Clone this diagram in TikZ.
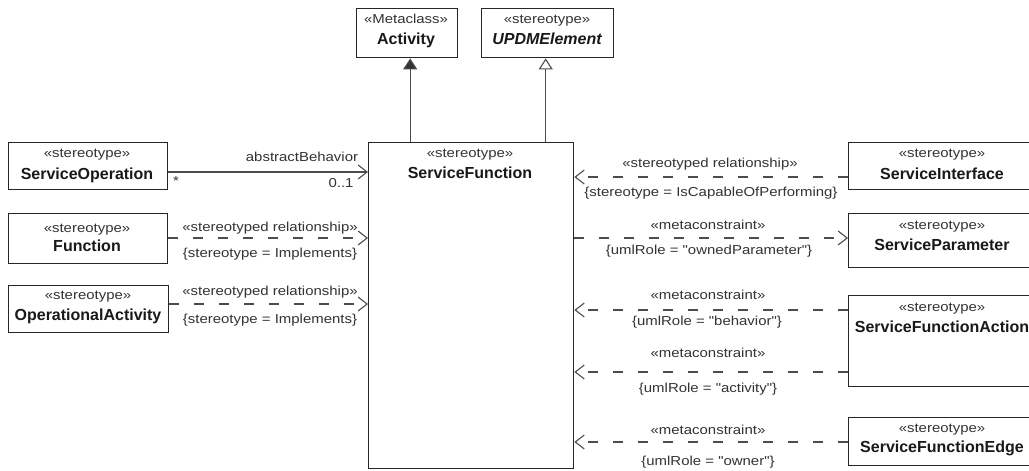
\documentclass[tikz,border=0pt]{standalone}
\usepackage{fontspec}
\setmainfont{Liberation Sans}
\newfontfamily\lblfont{Liberation Sans}[FakeStretch=1.15]
\usetikzlibrary{arrows.meta}
\begin{document}
\begin{tikzpicture}[x=1pt,y=-1pt,
  cls/.style={draw=black!85, line width=1.4pt, fill=white, inner sep=0pt, anchor=north west},
  st/.style={font=\lblfont\fontsize{13}{15}\selectfont, text=black!80, inner sep=0pt, anchor=mid},
  nm/.style={font=\bfseries\fontsize{16}{18}\selectfont, text=black!90, inner sep=0pt, anchor=mid},
  conn/.style={draw=black!70, line width=1.1pt},
  dsh/.style={conn, dash pattern=on 10pt off 15pt},
  barb/.style={-{Straight Barb[length=9pt,width=14pt,line width=1.1pt]}},
  genf/.style={-{Triangle[length=11pt,width=14pt,fill=black!80]}},
  geno/.style={-{Triangle[open,length=11pt,width=14pt,fill=white]}}
]
\useasboundingbox (0,0) rectangle (1029,471);
\clip (0,0) rectangle (1029,471);
\fill[white] (0,0) rectangle (1029,471);

% boxes
\node[cls, minimum width=159pt, minimum height=47pt] (so) at (8,142) {};
\node[cls, minimum width=159pt, minimum height=50pt] (fn) at (8,213) {};
\node[cls, minimum width=160pt, minimum height=47pt] (oa) at (8,285) {};
\node[cls, minimum width=101pt, minimum height=49pt] (act) at (356,8) {};
\node[cls, minimum width=132pt, minimum height=49pt] (upd) at (481,8) {};
\node[cls, minimum width=205pt, minimum height=326pt] (sf) at (368,142) {};
\node[cls, minimum width=190pt, minimum height=47pt] (si) at (848,142) {};
\node[cls, minimum width=190pt, minimum height=54pt] (sp) at (848,213) {};
\node[cls, minimum width=190pt, minimum height=91pt] (sfa) at (848,295) {};
\node[cls, minimum width=190pt, minimum height=48pt] (sfe) at (848,417) {};

% box texts
\node[st] (so-s) at (87,155) {«stereotype»};
\node[nm] (so-n) at (87,177) {ServiceOperation};
\node[st] (fn-s) at (87,230) {«stereotype»};
\node[nm] (fn-n) at (87,249) {Function};
\node[st] (oa-s) at (88,297) {«stereotype»};
\node[nm] (oa-n) at (88,318) {OperationalActivity};
\node[st] (act-s) at (406,21) {«Metaclass»};
\node[nm] (act-n) at (406,42) {Activity};
\node[st] (upd-s) at (547,21) {«stereotype»};
\node[nm, font=\bfseries\itshape\fontsize{16}{18}\selectfont] (upd-n) at (547,42) {UPDMElement};
\node[st] (sf-s) at (470,155) {«stereotype»};
\node[nm] (sf-n) at (470,176) {ServiceFunction};
\node[st] (si-s) at (942,155) {«stereotype»};
\node[nm] (si-n) at (942,177) {ServiceInterface};
\node[st] (sp-s) at (942,227) {«stereotype»};
\node[nm] (sp-n) at (942,248) {ServiceParameter};
\node[st] (sfa-s) at (942,309) {«stereotype»};
\node[nm] (sfa-n) at (942,330) {ServiceFunctionAction};
\node[st] (sfe-s) at (942,430) {«stereotype»};
\node[nm] (sfe-n) at (942,450) {ServiceFunctionEdge};

% generalizations
\draw[conn, genf] (sf.north -| act.south) ++(3,0) coordinate (g1) (g1) -- (g1 |- act.south);
\draw[conn, geno] (sf.north -| upd.south) ++(-2,0) coordinate (g2) (g2) -- (g2 |- upd.south);

% association
\coordinate (a1) at (so.east |- 0,172);
\draw[conn, barb] (a1) -- (a1 -| sf.west);
\node[st] (ab) at (302,159) {abstractBehavior};
\node[st] (m1) at (176,183) {*};
\node[st] (m2) at (341,185) {0..1};

% left dependencies
\coordinate (d1) at (fn.east |- 0,238);
\draw[dsh, barb] (d1) -- (d1 -| sf.west);
\node[st] (d1a) at (270,229) {«stereotyped relationship»};
\node[st] (d1b) at (270,255) {\{stereotype = Implements\}};
\coordinate (d2) at (oa.east |- 0,304);
\draw[dsh, barb] (d2) -- (d2 -| sf.west);
\node[st] (d2a) at (270,293) {«stereotyped relationship»};
\node[st] (d2b) at (270,321) {\{stereotype = Implements\}};

% right dependencies
\coordinate (r1) at (si.west |- 0,177);
\draw[dsh, barb] (r1) -- (r1 -| sf.east);
\node[st] (r1a) at (710,165) {«stereotyped relationship»};
\node[st] (r1b) at (711,194) {\{stereotype = IsCapableOfPerforming\}};
\coordinate (r2) at (sf.east |- 0,238);
\draw[dsh, barb] (r2) -- (r2 -| sp.west);
\node[st] (r2a) at (708,227) {«metaconstraint»};
\node[st] (r2b) at (709,252) {\{umlRole = "ownedParameter"\}};
\coordinate (r3) at (sfa.west |- 0,310);
\draw[dsh, barb] (r3) -- (r3 -| sf.east);
\node[st] (r3a) at (708,297) {«metaconstraint»};
\node[st] (r3b) at (707,323) {\{umlRole = "behavior"\}};
\coordinate (r4) at (sfa.west |- 0,372);
\draw[dsh, barb] (r4) -- (r4 -| sf.east);
\node[st] (r4a) at (708,355) {«metaconstraint»};
\node[st] (r4b) at (708,390) {\{umlRole = "activity"\}};
\coordinate (r5) at (sfe.west |- 0,442);
\draw[dsh, barb] (r5) -- (r5 -| sf.east);
\node[st] (r5a) at (708,432) {«metaconstraint»};
\node[st] (r5b) at (708,463) {\{umlRole = "owner"\}};
\end{tikzpicture}
\end{document}
